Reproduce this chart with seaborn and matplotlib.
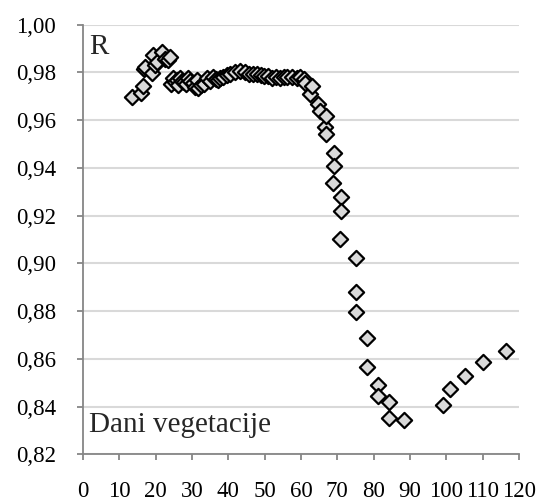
import numpy as np
import pandas as pd
import matplotlib
matplotlib.use("Agg")
import matplotlib.pyplot as plt
import seaborn as sns

# days of vegetation and correlation coefficient R
days = [13.5, 16.0, 16.5, 16.8, 17.2, 19.0, 19.4, 19.9, 20.5, 21.7, 22.6, 23.5, 24.0, 24.3,
        24.9, 25.4, 25.8, 26.3, 26.7, 27.2, 27.7, 28.3, 29.0, 29.6, 30.4, 30.8, 31.3, 31.8,
        32.5, 33.2, 34.1, 35.0, 35.9, 36.5, 37.2, 37.8, 38.6, 39.6, 40.5, 41.9, 43.3, 44.5,
        45.6, 46.8, 47.9, 49.0, 49.7, 51.0, 52.0, 53.2, 54.3, 55.2, 56.1, 57.5, 58.9, 59.8,
        60.7, 61.2, 62.6, 63.0, 64.8, 65.3, 66.7, 67.0, 67.0, 69.0, 69.0, 68.8, 71.0, 71.0,
        70.8, 75.2, 75.2, 75.2, 78.2, 78.2, 81.1, 81.1, 84.1, 84.1, 88.3, 99.1, 101.1, 105.1,
        110.1, 116.3]
r_values = [0.9695, 0.9714, 0.9742, 0.9812, 0.9822, 0.9796, 0.9872, 0.9830, 0.9845, 0.9886,
            0.9855, 0.9850, 0.9865, 0.9750, 0.9777, 0.9760, 0.9768, 0.9748, 0.9775, 0.9765,
            0.9760, 0.9752, 0.9775, 0.9762, 0.9754, 0.9740, 0.9768, 0.9734, 0.9745, 0.9752,
            0.9775, 0.9765, 0.9781, 0.9770, 0.9768, 0.9777, 0.9780, 0.9788, 0.9795, 0.9802,
            0.9805, 0.9800, 0.9791, 0.9795, 0.9791, 0.9788, 0.9784, 0.9786, 0.9777, 0.9782,
            0.9777, 0.9780, 0.9780, 0.9782, 0.9777, 0.9780, 0.9770, 0.9757, 0.9711, 0.9743,
            0.9667, 0.9640, 0.9570, 0.9618, 0.9542, 0.9461, 0.9407, 0.9337, 0.9276, 0.9219,
            0.9104, 0.9023, 0.8881, 0.8797, 0.8686, 0.8564, 0.8490, 0.8445, 0.8418, 0.8353,
            0.8346, 0.8406, 0.8473, 0.8528, 0.8585, 0.8634]

x_ticks = list(range(0, 121, 10))
y_ticks = [0.82, 0.84, 0.86, 0.88, 0.90, 0.92, 0.94, 0.96, 0.98, 1.00]

df = pd.DataFrame({"days": days, "R": r_values})

sns.set_style("white")
plt.rcParams["font.family"] = ["Liberation Serif", "DejaVu Serif"]

fig = plt.figure(figsize=(5.38, 5.01), dpi=100)
ax = fig.add_axes([0.154, 0.093, 0.811, 0.858])

sns.scatterplot(data=df, x="days", y="R", marker="D", s=60, color="#d9d9d9",
                edgecolor="black", linewidth=1.6, ax=ax, zorder=3)

ax.set_xlim(0, 120)
ax.set_ylim(0.82, 1.00)
ax.set_xticks(x_ticks)
ax.set_yticks(y_ticks)
ax.set_yticklabels([f"{v:.2f}".replace(".", ",") for v in y_ticks])
ax.set_xlabel("")
ax.set_ylabel("")

ax.grid(axis="y", color="#d9d9d9", linewidth=1.5)
ax.set_axisbelow(True)

for side in ["top", "right"]:
    ax.spines[side].set_visible(False)
for side in ["left", "bottom"]:
    ax.spines[side].set_color("#868686")
    ax.spines[side].set_linewidth(1.3)

ax.tick_params(axis="both", direction="out", length=4.5, width=1.3, color="#868686",
               labelsize=16.5, labelcolor="black")
ax.tick_params(axis="x", pad=14.5)
ax.tick_params(axis="y", pad=15)
ax.tick_params(left=True, bottom=True)

ax.text(0.014, 0.931, "R", transform=ax.transAxes, fontsize=21, ha="left", va="baseline")
ax.text(0.014, 0.0526, "Dani vegetacije", transform=ax.transAxes, fontsize=21,
        ha="left", va="baseline")

fig.savefig("out.png", dpi=100)
